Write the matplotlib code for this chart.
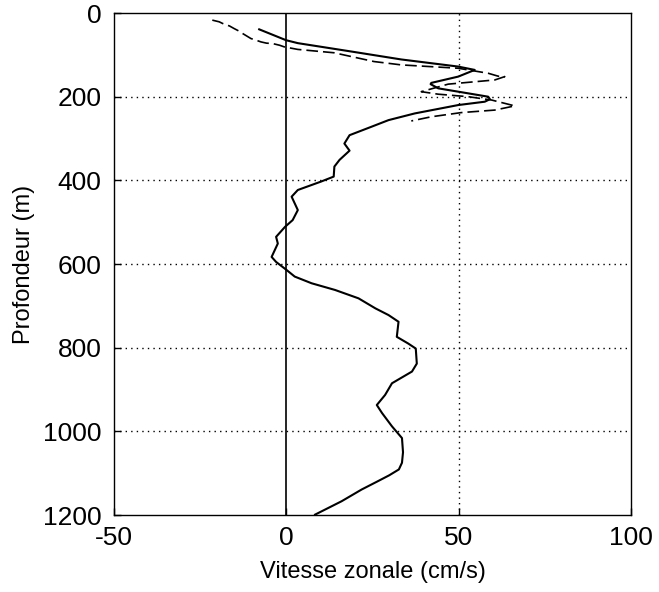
import matplotlib
matplotlib.use("Agg")
import matplotlib.pyplot as plt

plt.rcParams['font.family'] = ['Liberation Sans', 'DejaVu Sans']
plt.rcParams['axes.unicode_minus'] = False

# Full-depth zonal velocity profile (cm/s) vs depth (m)
depth_full = [39, 65, 72, 92, 111, 128, 136, 152, 167, 170, 180, 188, 200, 206, 212,
              220, 240, 256, 272, 292, 312, 329, 351, 367, 391, 403, 423, 439, 471,
              495, 511, 535, 551, 583, 595, 614, 630, 646, 662, 682, 706, 722, 738,
              774, 790, 802, 838, 857, 885, 913, 937, 956, 988, 1016, 1050, 1075,
              1091, 1105, 1120, 1139, 1167, 1199]
speed_full = [-7.9, -0.1, 3.3, 18.8, 33.3, 49.8, 54.6, 49.8, 42.0, 41.8, 44.0, 49.8,
              58.5, 59.0, 57.5, 49.8, 37.2, 29.6, 24.6, 18.3, 16.8, 18.3, 15.4, 13.9,
              13.7, 10.0, 3.3, 1.5, 3.3, 1.8, -0.4, -3.0, -2.5, -4.3, -3.0, 0.0, 2.4,
              7.3, 14.1, 20.9, 25.8, 29.6, 32.5, 32.0, 35.3, 37.5, 37.8, 36.4, 30.6,
              28.6, 26.2, 27.7, 30.6, 33.5, 33.8, 33.5, 32.6, 29.8, 26.3, 21.8, 16.0,
              8.3]

# Upper-layer profile (dashed)
depth_upper = [17, 21, 25, 31, 37, 43, 49, 55, 61, 65, 69, 72, 73, 77, 81, 87, 95,
               116, 124, 132, 144, 151, 152, 160, 170, 188, 194, 200, 208, 218, 222,
               232, 238, 248, 258]
speed_upper = [-21.5, -19.5, -18.5, -16.5, -15.2, -13.8, -12.7, -11.5, -10.3, -8.8,
               -7.4, -5.8, -4.0, -2.0, -0.6, 3.3, 13.8, 25.4, 33.3, 49.8, 58.5, 61.4,
               63.3, 60.4, 46.9, 39.1, 44.0, 52.7, 59.5, 64.3, 66.2, 60.4, 50.7, 42.0,
               36.2]

x_ticks = [-50, 0, 50, 100]
y_ticks = [0, 200, 400, 600, 800, 1000, 1200]

fig = plt.figure(figsize=(6.59, 5.92), dpi=100)
ax = fig.add_axes([0.173, 0.130, 0.785, 0.848])

# dotted grid
for xv in [50]:
    ax.axvline(xv, color='black', linestyle=(0, (1, 3)), linewidth=1.0, zorder=1)
for yv in y_ticks[1:-1]:
    ax.axhline(yv, color='black', linestyle=(0, (1, 3)), linewidth=1.0, zorder=1)

# zero-velocity reference
ax.axvline(0, color='black', linewidth=1.2, zorder=2)

ax.plot(speed_full, depth_full, color='black', linewidth=1.5, zorder=3)
ax.plot(speed_upper, depth_upper, color='black', linewidth=1.2,
        linestyle=(0, (7, 3)), zorder=3)

ax.set_xlim(-50, 100)
ax.set_ylim(1200, 0)
ax.set_xticks(x_ticks)
ax.set_yticks(y_ticks)
ax.tick_params(direction='in', length=5, labelsize=19, width=1)
ax.tick_params(axis='x', pad=8)
ax.tick_params(axis='y', pad=9)
for s in ax.spines.values():
    s.set_linewidth(1.0)

ax.set_xlabel('Vitesse zonale (cm/s)', fontsize=17, labelpad=8)
ax.set_ylabel('Profondeur (m)', fontsize=17, labelpad=6)

fig.savefig('out.png', dpi=100)
